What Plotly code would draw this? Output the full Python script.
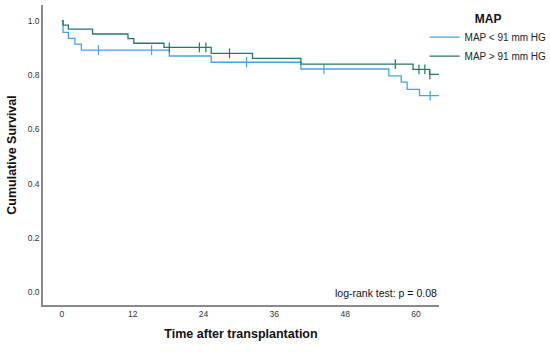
import numpy as np
import plotly.graph_objects as go

# ---- data ----
blue_name = "MAP < 91 mm HG"
blue_event_t = [0.2, 1.1, 2.2, 3.3, 18.2, 25.3, 40.5, 55.4, 57.5, 58.5, 60.6]
blue_surv = [0.958, 0.936, 0.915, 0.893, 0.871, 0.848, 0.823, 0.798, 0.775, 0.748, 0.725]
blue_censor_t = [6.2, 15.2, 31.3, 44.4, 62.4]
blue_end = 63.9

green_name = "MAP > 91 mm HG"
green_event_t = [0.2, 1.1, 5.2, 11.2, 12.2, 17.3, 25.3, 32.3, 40.5, 59.5, 62.3]
green_surv = [0.985, 0.970, 0.952, 0.935, 0.918, 0.903, 0.881, 0.862, 0.841, 0.822, 0.803]
green_censor_t = [18.2, 23.3, 24.4, 28.4, 56.5, 60.5, 61.5, 62.35]
green_end = 63.9

x_ticks = [0, 12, 24, 36, 48, 60]
y_ticks = [0.0, 0.2, 0.4, 0.6, 0.8, 1.0]

BLUE = "#45a3e3"
GREEN = "#237a68"
FONT = "Liberation Sans, Arial, sans-serif"


def step_xy(ev_t, surv, end):
    x = [0.0] + list(ev_t) + [end]
    y = [1.0] + list(surv) + [surv[-1]]
    return x, y


def surv_at(ev_t, surv, t):
    idx = np.searchsorted(np.array(ev_t), t, side="right")
    return 1.0 if idx == 0 else surv[idx - 1]


fig = go.Figure()
for name, ev, sv, cens, end, col in [
    (blue_name, blue_event_t, blue_surv, blue_censor_t, blue_end, BLUE),
    (green_name, green_event_t, green_surv, green_censor_t, green_end, GREEN),
]:
    x, y = step_xy(ev, sv, end)
    fig.add_trace(go.Scatter(x=x, y=y, mode="lines", name=name,
                             line=dict(color=col, width=1.3, shape="hv")))
    fig.add_trace(go.Scatter(x=cens, y=[surv_at(ev, sv, t) for t in cens],
                             mode="markers", showlegend=False,
                             marker=dict(symbol="line-ns", size=7,
                                         line=dict(color=col, width=1.2))))

fig.add_annotation(x=1.0, y=0.015, xref="paper", yref="paper",
                   xanchor="right", yanchor="bottom",
                   text="log-rank test: p = 0.08", showarrow=False,
                   font=dict(size=10.5, color="#111", family=FONT))

fig.update_layout(
    width=550, height=352,
    margin=dict(l=43, r=111, t=5, b=47, autoexpand=False),
    paper_bgcolor="white", plot_bgcolor="white",
    font=dict(family=FONT, color="#333"),
    legend=dict(xref="container", yref="container",
                x=0.772, y=0.98, xanchor="left", yanchor="top",
                title=dict(text="<b>MAP</b>", side="top center",
                           font=dict(size=12, color="#111")),
                font=dict(size=10, color="#222"),
                itemwidth=30, tracegroupgap=0, bgcolor="rgba(0,0,0,0)"),
    xaxis=dict(range=[-3.2, 63.9], tickvals=x_ticks,
               ticktext=[str(v) for v in x_ticks],
               showgrid=False, zeroline=False, showline=True,
               linecolor="#8a8a8a", linewidth=1.5, ticks="",
               automargin=False,
               tickfont=dict(size=8.5, color="#333"),
               title=dict(text="<b>Time after transplantation</b>",
                          font=dict(size=12.5, color="#111"), standoff=11)),
    yaxis=dict(range=[-0.047, 1.059], tickvals=y_ticks,
               ticktext=["%.1f" % v for v in y_ticks],
               showgrid=False, zeroline=False, showline=True,
               linecolor="#8a8a8a", linewidth=1.5, ticks="",
               automargin=False,
               tickfont=dict(size=8.5, color="#333"),
               title=dict(text="<b>Cumulative Survival</b>",
                          font=dict(size=12.5, color="#111"), standoff=8)),
)

fig.write_html("out.html",
               config={"displayModeBar": False},
               post_script="document.body.style.margin='0';document.body.style.padding='0';")
